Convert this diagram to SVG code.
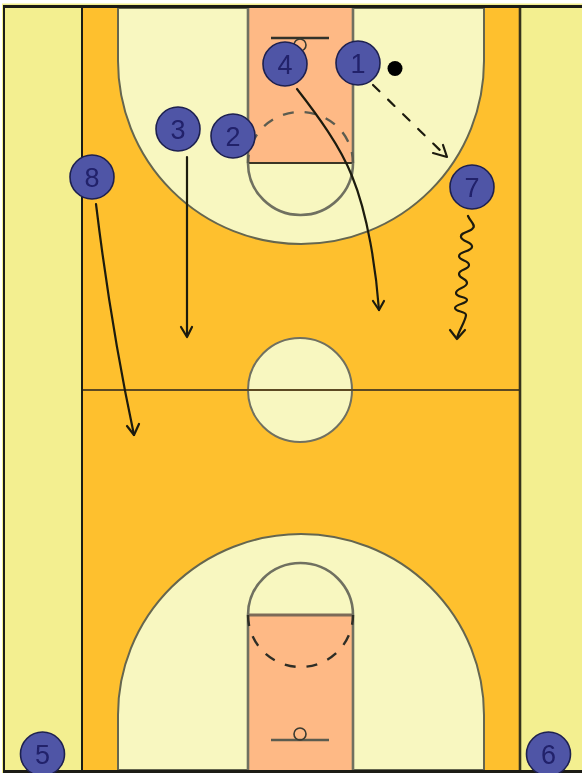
<svg xmlns="http://www.w3.org/2000/svg" width="582" height="773" viewBox="0 0 582 773">
<style>
.paint{stroke:#6f7060;stroke-width:2.600;fill:none}
.move{stroke:#1d1a10;stroke-width:2.200;fill:none;stroke-linecap:round;stroke-linejoin:round}
.head{stroke:#1d1a10;stroke-width:2.200;fill:none;stroke-linecap:round;stroke-linejoin:round}
.p{fill:#4f55a6;stroke:#1f2050;stroke-width:1.600}
.n{font-family:"Liberation Sans",Arial,sans-serif;font-size:27px;fill:#20206a;text-anchor:middle}
</style>
<defs><filter id="soft" x="0" y="0" width="100%" height="100%"><feGaussianBlur stdDeviation="0.6"/></filter></defs>
<rect width="582" height="773" fill="#fff"/>
<g filter="url(#soft)">
<rect x="2" y="3.500" width="580" height="769.500" fill="#f3ef90"/>
<g id="court">
<rect x="82" y="8" width="438" height="762" fill="#fec02e"/>
<path d="M118 8V61A183 183 0 0 0 484 61V8Z" fill="#f8f7c0" stroke="#65664f" stroke-width="2"/>
<path d="M118 770V715A183 181 0 0 1 484 715V770Z" fill="#f8f7c0" stroke="#65664f" stroke-width="2"/>
<rect x="248" y="8" width="105" height="155" fill="#feb985"/>
<rect x="248" y="615" width="105" height="155" fill="#feb985"/>
<path class="paint" d="M248 8V163M353 8V163M248 770V615M353 770V615"/>
<path d="M248 163H353" stroke="#3a3528" stroke-width="2"/>
<path d="M248 615H353" stroke="#7c6a58" stroke-width="3"/>
<path class="paint" d="M248 163A52.500 52 0 0 0 353 163"/>
<path class="paint" d="M248 615A52.500 52 0 0 1 353 615"/>
<path d="M353 163A52.500 51 0 0 0 248 163" fill="none" stroke="#5c5c50" stroke-width="2.400" stroke-dasharray="11 11"/>
<path d="M248 615A52.500 52 0 0 0 353 615" fill="none" stroke="#2f2f28" stroke-width="2.400" stroke-dasharray="11 11"/>
<circle cx="300" cy="390" r="52" fill="#f8f7c0" stroke="#6f7060" stroke-width="2"/>
<path d="M82 390H520" stroke="#5c4a20" stroke-width="2"/>
<path d="M271 38H329" stroke="#33332a" stroke-width="2.400"/>
<path d="M271 740H329" stroke="#5c5c50" stroke-width="2.400"/>
<circle cx="300" cy="45" r="6" fill="none" stroke="#3a3a30" stroke-width="1.600"/>
<circle cx="300" cy="734" r="6" fill="none" stroke="#3a3a30" stroke-width="1.600"/>
<path d="M82 8V771M4 5V773" stroke="#1f1e12" stroke-width="2" fill="none"/>
<path d="M520 8V771" stroke="#35331f" stroke-width="2.600" fill="none"/>
<path d="M3 6.500H582M3 771.500H582" stroke="#1f1e12" stroke-width="3" fill="none"/>
</g>
<g id="connectors">
<path class="move" d="M187 157V336"/>
<path class="head" d="M181 327L187 337L192 327"/>
<path class="move" d="M96 204C104 270 118 360 134 435"/>
<path class="head" d="M127 426L134 435L139 424"/>
<path class="move" d="M297 89C318 116 340 146 352 176C368 215 376 270 379 310"/>
<path class="head" d="M373 301L379 310L384 301"/>
<path class="move" d="M373 85L447 157" stroke-dasharray="9 12"/>
<path class="head" d="M433 153L447 157L443 145"/>
<path class="move" d="M468 216C470 221 476 225 473 228C471 232 460 232 461 237C462 242 473 242 472 247C471 252 459 251 459 256C459 261 469 260 469 265C469 270 459 269 459 274C459 279 467 278 467 283C467 288 456 288 456 293C456 298 467 296 467 300C467 304 455 304 455 308C455 312 466 311 466 315C466 320 459 330 457 338"/>
<path class="head" d="M450 330L457 339L465 330"/>
</g>
<g id="player-1"><circle class="p" cx="358" cy="63" r="22"/><text class="n" x="358" y="73">1</text></g>
<g id="player-2"><circle class="p" cx="233" cy="136" r="22"/><text class="n" x="233" y="146">2</text></g>
<g id="player-3"><circle class="p" cx="178" cy="129" r="22"/><text class="n" x="178" y="139">3</text></g>
<g id="player-4"><circle class="p" cx="285" cy="64" r="22"/><text class="n" x="285" y="74">4</text></g>
<g id="player-5"><circle class="p" cx="42.500" cy="754" r="22"/><text class="n" x="42.500" y="764">5</text></g>
<g id="player-6"><circle class="p" cx="548.500" cy="754" r="22"/><text class="n" x="548.500" y="764">6</text></g>
<g id="player-7"><circle class="p" cx="472" cy="187" r="22"/><text class="n" x="472" y="197">7</text></g>
<g id="player-8"><circle class="p" cx="92" cy="177" r="22"/><text class="n" x="92" y="187">8</text></g>
<g id="ball"><circle cx="395" cy="68.500" r="7.500" fill="#000"/></g>
</g>
</svg>
